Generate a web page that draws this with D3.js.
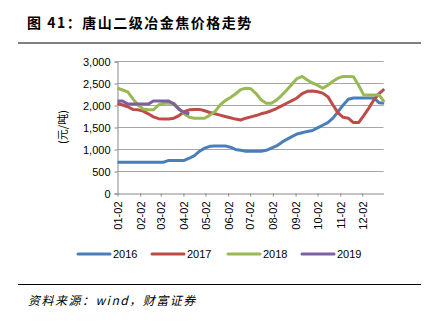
<!DOCTYPE html>
<html><head><meta charset="utf-8">
<script src="https://cdn.jsdelivr.net/npm/d3@7"></script>
<style>body{margin:0;background:#fff}svg{display:block}</style>
</head><body>
<script>
const seriesNames = ["2016","2017","2018","2019"];
const colors = ["#4a7ebb","#be4b48","#98b954","#7d60a0"];
const monthTicks = ["01-02","02-02","03-02","04-02","05-02","06-02","07-02","08-02","09-02","10-02","11-02","12-02"];
const yTicks = [0,500,1000,1500,2000,2500,3000];
// weekly prices, week 0 = 01-02
const v2016 = [700,700,700,700,700,700,700,700,700,700,740,740,740,740,790,850,950,1020,1060,1070,1070,1070,1040,990,970,950,950,950,950,970,1020,1070,1150,1220,1280,1340,1370,1400,1420,1480,1540,1600,1700,1850,2000,2130,2160,2160,2160,2160,2160,2050,2040];
const v2017 = [2040,2000,1960,1900,1890,1860,1800,1730,1690,1680,1680,1700,1760,1850,1890,1900,1900,1870,1830,1800,1770,1740,1710,1680,1660,1700,1730,1760,1800,1830,1870,1920,1980,2040,2100,2160,2260,2310,2320,2300,2270,2190,2000,1820,1720,1700,1600,1600,1760,1930,2120,2260,2360];
const v2018 = [2380,2340,2300,2140,2000,1910,1890,1890,2000,2040,2040,2040,1920,1800,1720,1700,1700,1700,1770,1850,2000,2100,2170,2250,2350,2380,2370,2260,2120,2040,2040,2110,2220,2340,2470,2600,2650,2570,2500,2450,2380,2450,2540,2610,2650,2650,2640,2450,2230,2230,2230,2230,2070];
const v2019 = [2090,2090,2020,2020,2020,2020,2020,2090,2090,2090,2090,2020,1900,1830,1800];
const allSeries = [v2016,v2017,v2018,v2019];

const W=430,H=323;
const svg=d3.select("body").append("svg").attr("width",W).attr("height",H);
const start=new Date(2017,0,2), end=new Date(2017,11,31);
const x=d3.scaleTime().domain([start,end]).range([117.5,383.5]);
const y=d3.scaleLinear().domain([0,3000]).range([193,61]);
const dateOf=i=>d3.timeDay.offset(start,i*7);
const tickDates=monthTicks.map(s=>new Date(2017,+s.slice(0,2)-1,+s.slice(3)));

// title
svg.append("text").attr("x",27).attr("y",28).attr("font-family","'Noto Sans CJK SC'").attr("font-weight","bold").attr("font-size",14).attr("letter-spacing",1.5).attr("fill","#000").text("图 41：唐山二级冶金焦价格走势");
svg.append("line").attr("x1",18).attr("x2",421).attr("y1",43).attr("y2",43).attr("stroke","#000").attr("stroke-width",1);

// grid
svg.append("g").selectAll("line").data(yTicks.filter(d=>d>0)).join("line")
  .attr("x1",117.5).attr("x2",383.5).attr("y1",d=>Math.round(y(d))+0.5).attr("y2",d=>Math.round(y(d))+0.5)
  .attr("stroke","#a6a6a6").attr("stroke-width",1);

// y axis
const ya=svg.append("g").attr("transform","translate(117.5,0.5)")
  .call(d3.axisLeft(y).tickValues(yTicks).tickFormat(d3.format(",")).tickSize(3).tickPadding(4));
ya.select(".domain").attr("stroke","#888");
ya.selectAll(".tick line").attr("stroke","#888");
ya.selectAll("text").attr("font-family","'Liberation Sans'").attr("font-size",11).attr("fill","#000");

// x axis
const xa=svg.append("g").attr("transform","translate(0,193.5)")
  .call(d3.axisBottom(x).tickValues(tickDates).tickFormat((d,i)=>monthTicks[i]).tickSize(3).tickSizeOuter(0));
xa.select(".domain").attr("stroke","#888");
xa.selectAll(".tick line").attr("stroke","#888");
xa.selectAll("text").attr("font-family","'Liberation Sans'").attr("font-size",11).attr("fill","#000")
  .attr("transform","rotate(-90)").attr("text-anchor","end").attr("dx","-8").attr("dy","0.35em").attr("y",0).attr("x",0);

// y label
svg.append("text").attr("transform","translate(67,127) rotate(-90)").attr("text-anchor","middle")
  .attr("font-family","'Noto Sans CJK SC'").attr("font-size",11).attr("fill","#000").text("(元/吨)");

// lines
const line=d3.line().x((d,i)=>x(dateOf(i))).y(d=>y(d));
svg.append("g").selectAll("path").data(allSeries).join("path")
  .attr("d",d=>line(d)).attr("fill","none").attr("stroke",(d,i)=>colors[i]).attr("stroke-width",3).attr("stroke-linejoin","round");

// legend
const lx=[78,152,228,302];
const lg=svg.append("g").selectAll("g").data(seriesNames).join("g").attr("transform",(d,i)=>`translate(${lx[i]},254)`);
lg.append("line").attr("x1",0).attr("x2",32).attr("stroke",(d,i)=>colors[i]).attr("stroke-width",3).attr("stroke-linecap","round");
lg.append("text").attr("x",35).attr("y",4).attr("font-family","'Liberation Sans'").attr("font-size",11).attr("fill","#000").text(d=>d);

// footer
svg.append("line").attr("x1",18).attr("x2",421).attr("y1",284.5).attr("y2",284.5).attr("stroke","#000").attr("stroke-width",1);
svg.append("text").attr("x",28).attr("y",305).attr("font-family","'Noto Sans CJK SC'").attr("font-style","italic").attr("font-size",12).attr("letter-spacing",1.5).attr("fill","#000").text("资料来源：wind，财富证券");
</script>
</body></html>
